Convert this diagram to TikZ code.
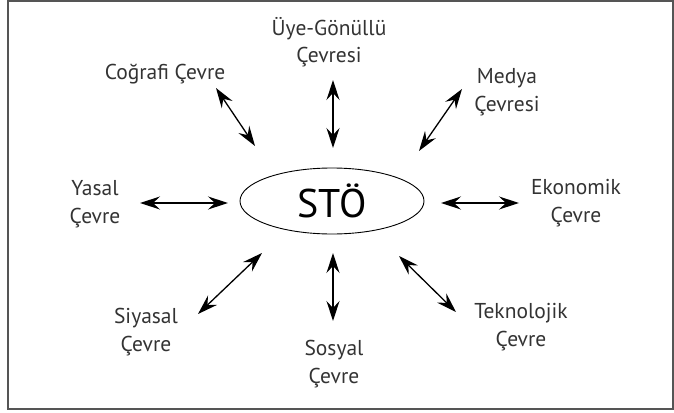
\documentclass[tikz,border=0pt]{standalone}
\usepackage{fontspec}
\setmainfont{PT Sans}
\usetikzlibrary{arrows.meta,shapes.geometric}
\definecolor{txt}{HTML}{333333}
\definecolor{frame}{HTML}{555555}
\tikzset{
  lbl/.style={text=txt,align=center,inner sep=0pt,font=\fontsize{21.5}{27.5}\selectfont},
  biarrow/.style={line width=1.3pt,{Stealth[length=20pt,width=13pt,inset=7pt]}-{Stealth[length=20pt,width=13pt,inset=7pt]}},
  hub/.style={ellipse,draw,line width=0.9pt,minimum width=184pt,minimum height=66pt,inner sep=0pt,text=black,font=\fontsize{40}{40}\selectfont}
}
\begin{document}
\begin{tikzpicture}[x=1pt,y=-1pt]
\useasboundingbox (0,0) rectangle (674,412);
\draw[frame,line width=2pt] (7.5,1.5) rectangle (673,408.5);
\node[hub] (sto) at (332,201) {STÖ};
% labels
\node[lbl] (uye) at (329,42) {Üye-Gönüllü\\Çevresi};
\node[lbl] (cog) at (165,74) {Coğrafi Çevre};
\node[lbl] (med) at (507,92) {Medya\\Çevresi};
\node[lbl] (yas) at (95,204) {Yasal\\Çevre};
\node[lbl] (eko) at (576,203) {Ekonomik\\Çevre};
\node[lbl] (siy) at (146,332) {Siyasal\\Çevre};
\node[lbl] (sos) at (334,364) {Sosyal\\Çevre};
\node[lbl] (tek) at (521,327) {Teknolojik\\Çevre};
% arrow ends
\coordinate (cogA) at (216,88);  \coordinate (cogB) at (255,146);
\coordinate (uyeA) at (333,80);  \coordinate (uyeB) at (333,148);
\coordinate (medA) at (462,89);  \coordinate (medB) at (419,151);
\coordinate (yasA) at (140,203); \coordinate (yasB) at (228,203);
\coordinate (ekoA) at (441,203); \coordinate (ekoB) at (519,203);
\coordinate (siyA) at (262,253); \coordinate (siyB) at (198,314);
\coordinate (sosA) at (333,253); \coordinate (sosB) at (333,321);
\coordinate (tekA) at (399,256); \coordinate (tekB) at (456,312);
\foreach \n in {cog,uye,med,yas,eko,siy,sos,tek}
  \draw[biarrow] (\n A) -- (\n B);
\end{tikzpicture}
\end{document}
